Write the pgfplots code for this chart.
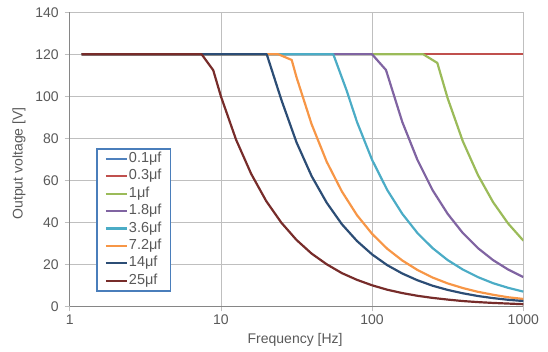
\documentclass[border=0pt]{standalone}
\usepackage{pgfplots}
\pgfplotsset{compat=1.18}
\usepackage{fontspec}
\setmainfont{Liberation Sans}
\definecolor{c1}{HTML}{4F81BD}
\definecolor{c2}{HTML}{C0504D}
\definecolor{c3}{HTML}{9BBB59}
\definecolor{c4}{HTML}{8064A2}
\definecolor{c5}{HTML}{4BACC6}
\definecolor{c6}{HTML}{F79646}
\definecolor{c7}{HTML}{2C4D75}
\definecolor{c8}{HTML}{772C2A}
\definecolor{txt}{HTML}{595959}
\definecolor{gridc}{HTML}{BFBFBF}
\definecolor{axc}{HTML}{868686}
\definecolor{legc}{HTML}{4A7EBB}
\begin{document}
\begin{tikzpicture}
\begin{axis}[
  scale only axis, width=453.6bp, height=294bp,
  xmode=log, xmin=1, xmax=1000, ymin=0, ymax=140,
  xtick={1,10,100,1000}, xticklabels={1,10,100,1000},
  ytick={0,20,40,60,80,100,120,140},
  xminorticks=false, yminorticks=false,
  axis lines=left, axis line style={axc, line width=0.9bp, -},
  grid=major, major grid style={gridc, line width=0.8bp},
  tick align=outside, major tick length=5bp,
  tick style={gridc, line width=0.8bp},
  /pgf/number format/assume math mode=true,
  ticklabel style={font=\fontsize{14bp}{16bp}\selectfont, text=txt},
  yticklabel style={xshift=-2.5bp},
  label style={font=\fontsize{14bp}{16bp}\selectfont, text=txt},
  xlabel={Frequency [Hz]}, ylabel={Output voltage [V]},
  xlabel style={at={(axis description cs:0.497,-0.1146)}, anchor=center},
  ylabel style={at={(axis description cs:-0.112,0.486)}, anchor=center},
  legend cell align=left,
  legend image code/.code={\draw[#1] (0bp,0bp) -- (21bp,0bp);},
  legend style={at={(0.058,0.538)}, anchor=north west,
    draw=legc, line width=1.5bp, fill=white,
    font=\fontsize{14.5bp}{16bp}\selectfont, text=txt,
    inner xsep=8bp, inner ysep=2.6bp, row sep=2.4bp,
    nodes={inner sep=1bp, text height=10bp, text depth=3bp},
    /tikz/every even column/.append style={column sep=3.5bp}},
  every axis plot/.append style={line width=2.2pt, line join=round},
]
\addplot[c1] coordinates {(1.2,120)(1000,120)};
\addlegendentry{0.1μf}
\addplot[c2] coordinates {(1.2,120)(1000,120)};
\addlegendentry{0.3μf}
\addplot[c3] coordinates {(1.2,120)(218,120)(270,115.9)(316.2,99.0)(398.1,78.6)(501.2,62.5)(631,49.6)(794.3,39.4)(1000,31.3)};
\addlegendentry{1μf}
\addplot[c4] coordinates {(1.2,120)(100,120)(123.6,112.5)(158.5,87.7)(199.5,69.7)(251.2,55.3)(316.2,44.0)(398.1,34.9)(501.2,27.7)(631,22.0)(794.3,17.5)(1000,13.9)};
\addlegendentry{1.8μf}
\addplot[c5] coordinates {(1.2,120)(55.4,120)(67.9,102.7)(79.43,87.8)(100,69.7)(125.9,55.4)(158.5,44.0)(199.5,34.9)(251.2,27.7)(316.2,22.0)(398.1,17.5)(501.2,13.9)(631,11.0)(794.3,8.8)(1000,7.0)};
\addlegendentry{3.6μf}
\addplot[c6] coordinates {(1.2,120)(24,120)(29.4,117.3)(31.62,109.1)(39.81,86.7)(50.12,68.8)(63.10,54.7)(79.43,43.4)(100,34.5)(125.9,27.4)(158.5,21.8)(199.5,17.3)(251.2,13.7)(316.2,10.9)(398.1,8.7)(501.2,6.9)(631,5.5)(794.3,4.3)(1000,3.5)};
\addlegendentry{7.2μf}
\addplot[c7] coordinates {(1.2,120)(20.1,120)(25.12,98.3)(31.62,78.1)(39.81,62.0)(50.12,49.3)(63.10,39.1)(79.43,31.1)(100,24.7)(125.9,19.6)(158.5,15.6)(199.5,12.4)(251.2,9.8)(316.2,7.8)(398.1,6.2)(501.2,4.9)(631,3.9)(794.3,3.1)(1000,2.5)};
\addlegendentry{14μf}
\addplot[c8] coordinates {(1.2,120)(7.46,120)(8.9,112.4)(10,100)(12.59,79.4)(15.85,63.1)(19.95,50.1)(25.12,39.8)(31.62,31.6)(39.81,25.1)(50.12,20.0)(63.10,15.8)(79.43,12.6)(100,10.0)(125.9,7.9)(158.5,6.3)(199.5,5.0)(251.2,4.0)(316.2,3.2)(398.1,2.5)(501.2,2.0)(631,1.6)(794.3,1.3)(1000,1.0)};
\addlegendentry{25μf}
\end{axis}
\path (current axis.south west) ++(-69.7bp,-45.7bp) rectangle ++(548bp,352bp);
\end{tikzpicture}
\end{document}
